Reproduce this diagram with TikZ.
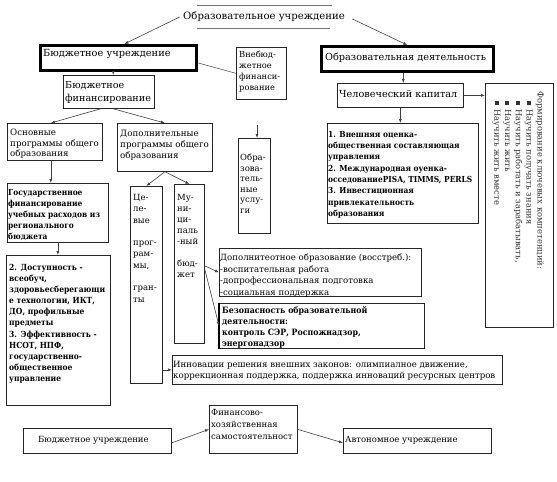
\documentclass[tikz,border=0pt]{standalone}
\usepackage{fontspec}
\setmainfont{DejaVu Serif}
\newfontfamily\boldcond{DejaVuSerifCondensed-Bold.ttf}
\usetikzlibrary{arrows.meta}
\newcommand{\fsz}[2]{\fontsize{#1}{#2}\selectfont}
\newcommand{\sqbul}{\hspace*{10pt}\rule[0.3pt]{4pt}{4pt}\hspace{4pt}}
\tikzset{
  box/.style={draw=black!85, anchor=north west, inner sep=0pt, line width=0.7pt},
  thickbox/.style={box, draw=black, line width=2.6pt},
  txt/.style={anchor=north west, align=left, inner sep=0pt},
  arr/.style={draw=black!75, line width=0.6pt, -{Latex[length=4pt,width=3pt]}},
  link/.style={draw=black!65, line width=0.6pt},
}
\begin{document}
\begin{tikzpicture}[x=1pt,y=-1pt]
  \useasboundingbox (0,0) rectangle (557,482);
  % header
  \node[font=\fsz{10.1}{12}] (ou) at (264,17) {Образовательное учреждение};
  \draw[black!55, line width=1pt] (197,5) -- (332,5);
  \draw[black!55, line width=1pt] (197,28) -- (330,28);
  % left branch
  \node[thickbox, minimum width=156pt, minimum height=25pt] (bu) at (39,44) {};
  \node[txt, font=\fsz{9.8}{12}] (bu-t) at (43,49.5) {Бюджетное учреждение};
  \node[box, minimum width=91pt, minimum height=33pt] (bf) at (63,75) {};
  \node[txt, font=\fsz{9.6}{13}] (bf-t) at (65,81.5) {Бюджетное\\финансирование};
  \node[box, minimum width=50pt, minimum height=52pt] (vnb) at (236,47) {};
  \node[txt, font=\fsz{8.3}{10.8}] (vnb-t) at (239,51) {Внебюд-\\жетное\\финанси-\\рование};
  \node[box, minimum width=95pt, minimum height=37pt] (osn) at (7,123) {};
  \node[txt, font=\fsz{8.7}{10.5}] (osn-t) at (10,129) {Основные\\программы общего\\образования};
  \node[box, minimum width=95pt, minimum height=48pt] (dop) at (117,123) {};
  \node[txt, font=\fsz{8.7}{11}] (dop-t) at (120,130) {Дополнительные\\программы общего\\образования};
  \node[box, minimum width=101pt, minimum height=59pt] (gos) at (7,183) {};
  \node[txt, font=\boldcond\fsz{8.3}{11}] (gos-t) at (8,189) {Государственное\\финансирование\\учебных расходов из\\регионального\\бюджета};
  \node[box, minimum width=104pt, minimum height=150pt] (dost) at (6,255) {};
  \node[txt, font=\boldcond\fsz{8.4}{11.1}] (dost-t) at (9,264) {2. Доступность -\\всеобуч,\\здоровьесберегающи\\е технологии, ИКТ,\\ДО, профильные\\предметы\\3. Эффективность -\\НСОТ, НПФ,\\государственно-\\общественное\\управление};
  \node[box, minimum width=32pt, minimum height=197pt] (cel) at (130,186) {};
  \node[txt, font=\fsz{8.5}{11.3}] (cel-t) at (133,194) {Це-\\ле-\\вые\\~\\прог-\\рам-\\мы,\\~\\гран-\\ты};
  \node[box, minimum width=30pt, minimum height=159pt] (mun) at (174,184) {};
  \node[txt, font=\fsz{8.5}{11}] (mun-t) at (177,194) {Му-\\ни-\\ци-\\паль\\-ный\\~\\бюд-\\жет};
  \node[box, minimum width=32pt, minimum height=95pt] (usl) at (238,138) {};
  \node[txt, font=\fsz{8.5}{10.5}] (usl-t) at (240,154) {Обра-\\зова-\\тель-\\ные\\услу-\\ги};
  \node[box, minimum width=202pt, minimum height=48pt] (dopobr) at (219,248) {};
  \node[txt, font=\fsz{8.6}{11.5}] (dopobr-t) at (220,254) {Дополнитеотное образование (восстреб.):\\-воспитательная работа\\-допрофессиональная подготовка\\-социальная поддержка};
  \node[box, minimum width=205pt, minimum height=45pt] (bez) at (219,303) {};
  \draw[line width=1.8pt] (bez.north west) -- (bez.south west);
  \node[txt, font=\boldcond\fsz{8.7}{11}] (bez-t) at (222,306) {Безопасность образовательной\\деятельности:\\контроль СЭР, Роспожнадзор,\\энергонадзор};
  \node[box, minimum width=330pt, minimum height=29pt] (inn) at (172,355) {};
  \node[txt, font=\fsz{8.6}{11}] (inn-t) at (173,361) {Инновации решения внешних законов: олимпиалное движение,\\коррекционная поддержка, поддержка инноваций ресурсных центров};
  % right branch
  \node[thickbox, minimum width=172pt, minimum height=25pt] (od) at (320,45) {};
  \node[txt, font=\fsz{9.7}{12}] (od-t) at (325,52.5) {Образовательная деятельность};
  \node[box, minimum width=126pt, minimum height=24pt] (ck) at (337,83) {};
  \node[txt, font=\fsz{9.7}{12}] (ck-t) at (339,90.5) {Человеческий капитал};
  \node[box, minimum width=151pt, minimum height=100pt] (vo) at (327,123) {};
  \node[txt, font=\boldcond\fsz{8.3}{11.3}] (vo-t) at (328,131) {1. Внешняя оценка-\\общественная составляющая\\управления\\2. Международная оуенка-\\осседованиеPISA, TIMMS, PERLS\\3. Инвестиционная\\привлекательность\\образования};
  \node[box, minimum width=68pt, minimum height=244pt] (rot) at (485,83) {};
  \node[txt, rotate=-90, text=black!80, font=\fsz{8.4}{10.8}] (rot-t) at (544,91) {Формирование ключевых компетенций:\\\sqbul Научить получать знания\\\sqbul Научить работать и зарабатывать,\\\sqbul Научить жить\\\sqbul Научить жить вместе};
  % bottom row
  \node[box, minimum width=148pt, minimum height=25pt] (bu2) at (23,428) {};
  \node[txt, font=\fsz{8.5}{11}] (bu2-t) at (38,436) {Бюджетное учреждение};
  \node[box, minimum width=88pt, minimum height=48pt] (fin) at (209,405) {};
  \node[txt, font=\fsz{8.5}{12}] (fin-t) at (211,409) {Финансово-\\хозяйственная\\самостоятельност};
  \node[box, minimum width=148pt, minimum height=25pt] (avt) at (343,428) {};
  \node[txt, font=\fsz{8.5}{11}] (avt-t) at (345,436) {Автономное учреждение};
  \coordinate (usl-in) at (257,125);
  % connectors
  \draw[arr] (ou.west) -- ([xshift=6pt]bu.north);
  \draw[arr] ([shift={(4,2)}]ou.east) -- (od.north);
  \draw[link] ([yshift=-5pt]bu.east) -- (vnb.west);
  \draw[arr] ([xshift=-5pt]bu.south) -- ([xshift=-5pt]bu.south |- bf.north);
  \draw[arr] ([xshift=-8pt]bf.south) -- ([xshift=-4pt]osn.north);
  \draw[arr] ([xshift=4pt]bf.south) -- (dop.north);
  \draw[arr] ([xshift=-4pt]osn.south) -- ([xshift=-4pt]osn.south |- gos.north);
  \draw[arr] (gos.south) -- (gos.south |- dost.north);
  \draw[arr] (dop.south) -- (cel.north);
  \draw[arr] (dop.south) -- (mun.north);
  \draw[arr] (inn.west -| cel.east) -- (inn.west);
  \draw[arr] ([yshift=-2pt]mun.east) -- (dopobr.west);
  \draw[arr] ([yshift=-5pt]mun.east) -- (bez.west);
  \draw[arr] (usl-in) -- (usl-in |- usl.north);
  \draw[arr] ([xshift=-4pt]od.south) -- ([xshift=-4pt]od.south |- ck.north);
  \draw[arr] (ck.east) -- (ck.east -| rot.west);
  \draw[arr] (ck.south) -- (ck.south |- vo.north);
  \draw[arr] ([yshift=-2pt]bu2.east) -- (fin.west);
  \draw[arr] (fin.east) -- ([yshift=-2pt]avt.west);
\end{tikzpicture}
\end{document}
